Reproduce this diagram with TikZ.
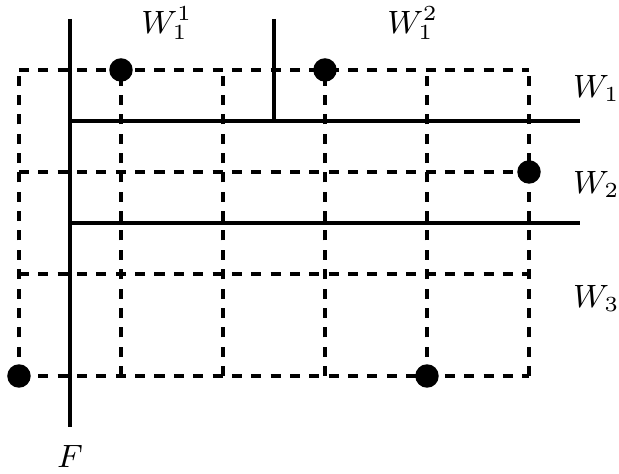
\documentclass[tikz,border=0pt]{standalone}
\usepackage{tikz}
\usetikzlibrary{positioning}

\begin{document}
\begin{tikzpicture}[x=1cm, y=1cm, grid/.style={line width=0.9pt, dash pattern=on 2.8pt off 2.6pt}, wall/.style={line width=1pt}, dot/.style={circle, fill, inner sep=0pt, minimum size=0.23cm}, lbl/.style={font=\small}]
\useasboundingbox (-0.186,-0.951) rectangle (5.882,3.686);
% dashed grid
\foreach \x in {0,...,5} \draw[grid] (\x,0) -- (\x,3);
\foreach \y in {0,...,3} \draw[grid] (0,\y) -- (5,\y);
% solid boundaries
\coordinate (ftop) at (0.5,3.5);
\coordinate (fbot) at (0.5,-0.5);
\coordinate (wtop) at (2.5,3.5);
\coordinate (wa) at (0.5,2.5);
\coordinate (wb) at (0.5,1.5);
\coordinate (wae) at (5.5,2.5);
\coordinate (wbe) at (5.5,1.5);
\coordinate (wmid) at (2.5,2.5);
\draw[wall] (ftop) -- (fbot);
\draw[wall] (wa) -- (wae);
\draw[wall] (wb) -- (wbe);
\draw[wall] (wtop) -- (wmid);
% points
\node[dot] (p1) at (1,3) {};
\node[dot] (p2) at (3,3) {};
\node[dot] (p3) at (5,2) {};
\node[dot] (p4) at (0,0) {};
\node[dot] (p5) at (4,0) {};
% labels
\node[lbl] (w11) at (1.45,3.46) {$W_1^1$};
\node[lbl] (w12) at (3.86,3.46) {$W_1^2$};
\node[lbl] (w1) at (5.66,2.82) {$W_1$};
\node[lbl] (w2) at (5.66,1.88) {$W_2$};
\node[lbl] (w3) at (5.66,0.76) {$W_3$};
\node[lbl] (f) at (0.5,-0.79) {$F$};
\end{tikzpicture}
\end{document}
